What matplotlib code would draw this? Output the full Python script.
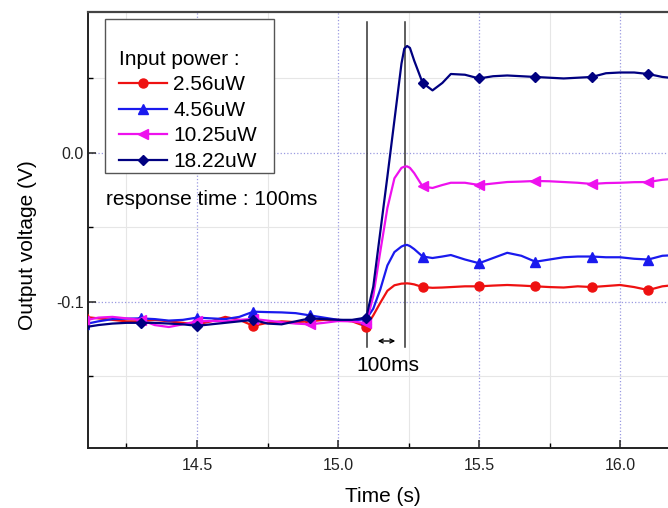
import matplotlib
matplotlib.use("Agg")
import matplotlib.pyplot as plt
from matplotlib.patches import Rectangle
from matplotlib.ticker import MultipleLocator, FormatStrFormatter

plt.rcParams['font.family'] = ['Liberation Sans', 'DejaVu Sans']
plt.rcParams['axes.unicode_minus'] = False

# time axis (s)
t = [14.10, 14.15, 14.20, 14.25, 14.30, 14.35, 14.40, 14.45, 14.50, 14.55,
     14.60, 14.65, 14.70, 14.75, 14.80, 14.85, 14.90, 14.95, 15.00, 15.05,
     15.10, 15.125, 15.15, 15.175, 15.20, 15.225, 15.235, 15.245, 15.255, 15.27,
     15.30, 15.335, 15.37, 15.40, 15.45, 15.50, 15.55, 15.60, 15.65, 15.70,
     15.75, 15.80, 15.85, 15.90, 15.95, 16.00, 16.05, 16.10, 16.15, 16.20]

# output voltage (V) per input power
v_256 = [-0.1100, -0.1110, -0.1120, -0.1130, -0.1130, -0.1120, -0.1130, -0.1140, -0.1150, -0.1130,
         -0.1100, -0.1120, -0.1160, -0.1140, -0.1130, -0.1135, -0.1130, -0.1120, -0.1120, -0.1130,
         -0.1165, -0.1090, -0.1005, -0.0925, -0.0888, -0.0877, -0.0876, -0.0875, -0.0877, -0.0882,
         -0.0900, -0.0905, -0.0903, -0.0900, -0.0895, -0.0895, -0.0890, -0.0886, -0.0890, -0.0895,
         -0.0900, -0.0903, -0.0895, -0.0900, -0.0893, -0.0886, -0.0900, -0.0920, -0.0895, -0.0885]
v_456 = [-0.1150, -0.1130, -0.1115, -0.1112, -0.1110, -0.1115, -0.1125, -0.1120, -0.1105, -0.1110,
         -0.1115, -0.1100, -0.1065, -0.1068, -0.1070, -0.1075, -0.1090, -0.1105, -0.1120, -0.1125,
         -0.1115, -0.1045, -0.0915, -0.0755, -0.0665, -0.0628, -0.0620, -0.0617, -0.0625, -0.0645,
         -0.0695, -0.0705, -0.0695, -0.0685, -0.0715, -0.0740, -0.0705, -0.0670, -0.0690, -0.0730,
         -0.0715, -0.0700, -0.0695, -0.0695, -0.0700, -0.0700, -0.0710, -0.0715, -0.0690, -0.0685]
v_1025 = [-0.1125, -0.1105, -0.1100, -0.1110, -0.1120, -0.1155, -0.1168, -0.1150, -0.1130, -0.1128,
          -0.1130, -0.1120, -0.1114, -0.1125, -0.1136, -0.1145, -0.1150, -0.1140, -0.1128, -0.1130,
          -0.1143, -0.0960, -0.0660, -0.0370, -0.0170, -0.0100, -0.0092, -0.0090, -0.0100, -0.0135,
          -0.0225, -0.0235, -0.0215, -0.0200, -0.0200, -0.0215, -0.0205, -0.0195, -0.0192, -0.0188,
          -0.0190, -0.0195, -0.0200, -0.0208, -0.0202, -0.0200, -0.0196, -0.0195, -0.0180, -0.0172]
v_1822 = [-0.1170, -0.1155, -0.1145, -0.1140, -0.1140, -0.1140, -0.1145, -0.1150, -0.1160, -0.1150,
          -0.1140, -0.1130, -0.1120, -0.1145, -0.1150, -0.1130, -0.1110, -0.1115, -0.1120, -0.1120,
          -0.1105, -0.0897, -0.0528, -0.0159, 0.0220, 0.0600, 0.0700, 0.0718, 0.0705, 0.0620,
          0.0470, 0.0420, 0.0470, 0.0530, 0.0525, 0.0500, 0.0515, 0.0520, 0.0515, 0.0510,
          0.0505, 0.0500, 0.0505, 0.0510, 0.0535, 0.0540, 0.0540, 0.0530, 0.0510, 0.0500]

labels = ['2.56uW', '4.56uW', '10.25uW', '18.22uW']
marker_times = [14.1, 14.3, 14.5, 14.7, 14.9, 15.1, 15.3, 15.5, 15.7, 15.9, 16.1]
t_on, t_off = 15.103, 15.238   # response-time guide lines

fig = plt.figure(figsize=(6.68, 5.08), dpi=100)
ax = fig.add_axes([88 / 668, 60 / 508, 580 / 668, 436 / 508])

marks = [min(range(len(t)), key=lambda i: abs(t[i] - m)) for m in marker_times]
styles = [('#ee1111', 'o', 6.5), ('#1a1aee', '^', 7), ('#ee11ee', '<', 7), ('#000080', 'D', 5.3)]
for v, lab, (c, m, ms) in zip([v_256, v_456, v_1025, v_1822], labels, styles):
    ax.plot(t, v, color=c, lw=1.6, marker=m, ms=ms, markevery=marks, label=lab, zorder=3)

# guide lines + 100ms arrow
for tx in (t_on, t_off):
    ax.plot([tx, tx], [-0.1302, 0.0879], color='#333333', lw=1.1, zorder=2)
ax.annotate('', xy=(15.131, -0.1262), xytext=(15.213, -0.1262),
            arrowprops=dict(arrowstyle='<->', color='black', lw=1.0, mutation_scale=7))
ax.text(15.177, -0.1423, '100ms', ha='center', va='center', fontsize=15)
ax.text(14.177, -0.0315, 'response time : 100ms', ha='left', va='center', fontsize=15)

ax.set_xlim(14.1135, 16.170)
ax.set_ylim(-0.198, 0.0946)
ax.xaxis.set_major_locator(MultipleLocator(0.5))
ax.xaxis.set_minor_locator(MultipleLocator(0.25))
ax.yaxis.set_major_locator(MultipleLocator(0.1))
ax.yaxis.set_minor_locator(MultipleLocator(0.05))
ax.xaxis.set_major_formatter(FormatStrFormatter('%.1f'))
ax.yaxis.set_major_formatter(FormatStrFormatter('%.1f'))
ax.tick_params(which='major', direction='in', length=6, width=1.1, labelsize=11.5,
               colors='#222222', top=False, right=False)
ax.tick_params(axis='x', which='major', pad=7)
ax.tick_params(axis='y', which='major', pad=3)
ax.tick_params(which='minor', direction='in', length=3.5, width=1.0, top=False, right=False)

ax.grid(which='major', color='#9a9ae0', ls=':', lw=0.9)
ax.grid(which='minor', color='#e6e6e6', ls='-', lw=0.8)
ax.set_axisbelow(True)

ax.spines['right'].set_visible(False)
ax.spines['top'].set_color('#444444')
ax.spines['top'].set_linewidth(1.6)
for s in ('left', 'bottom'):
    ax.spines[s].set_linewidth(1.4)
    ax.spines[s].set_color('#222222')

ax.set_xlabel('Time (s)', fontsize=15)
ax.set_ylabel('Output voltage (V)', fontsize=15)
ax.xaxis.set_label_coords(0.509, -0.089)
ax.yaxis.set_label_coords(-0.088, 0.466)

# legend box drawn separately (Origin-style padding)
ax.add_patch(Rectangle((17 / 580, 275 / 436), 169 / 580, 154 / 436, transform=ax.transAxes,
                       facecolor='white', edgecolor='#555555', lw=1.0, zorder=4))
leg = ax.legend(loc='upper left', bbox_to_anchor=(31 / 580, 398 / 436), frameon=False,
                title='Input power :', title_fontsize=15, fontsize=15, alignment='left',
                borderpad=0, borderaxespad=0, handlelength=2.3, handletextpad=0.3,
                labelspacing=0.31, numpoints=1)
leg.set_zorder(5)

fig.savefig('out.png', dpi=100)
